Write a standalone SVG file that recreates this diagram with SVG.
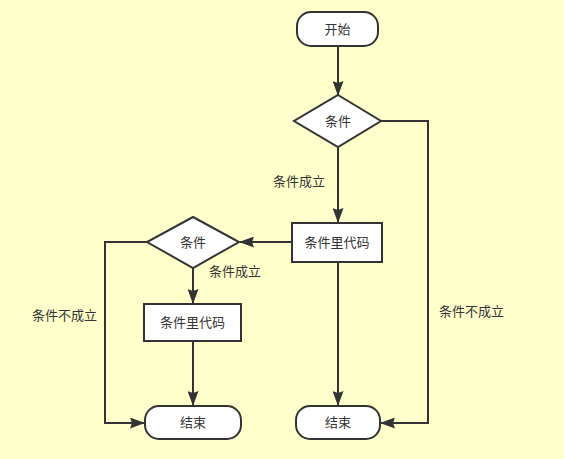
<svg xmlns="http://www.w3.org/2000/svg" width="564" height="459" viewBox="0 0 564 459">
<defs>
<marker id="ah" viewBox="0 0 15 11" refX="14" refY="5.5" markerWidth="15" markerHeight="11" orient="auto" markerUnits="userSpaceOnUse">
<path d="M0,0 L15,5.5 L0,11 L2,5.5 Z" fill="#333"/>
</marker>
<style>
.n{fill:#fff;stroke:#333;stroke-width:2}
.t{font-family:"Liberation Sans","Noto Sans CJK SC",sans-serif;font-size:13px;fill:#333;text-anchor:middle;dominant-baseline:central}
.l{font-family:"Liberation Sans","Noto Sans CJK SC",sans-serif;font-size:13px;fill:#333;dominant-baseline:central}
.c{fill:none;stroke:#333;stroke-width:2;marker-end:url(#ah)}
</style>
</defs>
<rect width="564" height="459" fill="#ffffcc"/>
<g id="connectors">
<path class="c" d="M338,47 V95"/>
<path class="c" d="M338,147 V222"/>
<path class="c" d="M381,121 H428 V423 H381"/>
<path class="c" d="M292,242 H240"/>
<path class="c" d="M193,268 V303"/>
<path class="c" d="M147,242 H105 V423 H144"/>
<path class="c" d="M193,341 V405"/>
<path class="c" d="M338,262 V405"/>
<text class="l" x="273" y="181">条件成立</text>
<text class="l" x="209" y="271">条件成立</text>
<text class="l" x="32" y="315">条件不成立</text>
<text class="l" x="439" y="311">条件不成立</text>
</g>
<g id="start"><rect class="n" x="297" y="12" width="81" height="34" rx="14"/><text class="t" x="337.5" y="29">开始</text></g>
<g id="cond1"><polygon class="n" points="338,95 381,121 338,147 294,121"/><text class="t" x="338" y="121">条件</text></g>
<g id="code1"><rect class="n" x="292" y="223" width="90" height="39"/><text class="t" x="337" y="242.5">条件里代码</text></g>
<g id="cond2"><polygon class="n" points="193,217 239,242 193,268 147,242"/><text class="t" x="193" y="242">条件</text></g>
<g id="code2"><rect class="n" x="144" y="304" width="97" height="37"/><text class="t" x="192.5" y="322.5">条件里代码</text></g>
<g id="end1"><rect class="n" x="145" y="406" width="96" height="33" rx="14"/><text class="t" x="193" y="422.5">结束</text></g>
<g id="end2"><rect class="n" x="296" y="406" width="84" height="33" rx="14"/><text class="t" x="338" y="422.5">结束</text></g>
</svg>
